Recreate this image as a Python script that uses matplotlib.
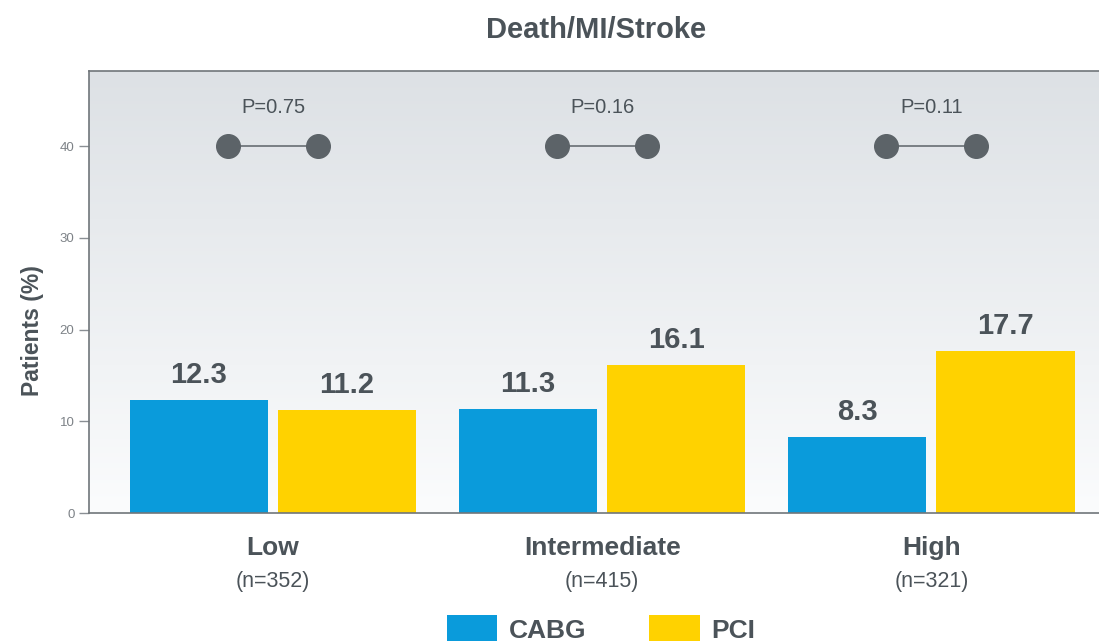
import matplotlib.pyplot as plt
import numpy as np
from matplotlib.colors import LinearSegmentedColormap

# data
groups = ["Low", "Intermediate", "High"]
n_labels = ["(n=352)", "(n=415)", "(n=321)"]
cabg = [12.3, 11.3, 8.3]
pci = [11.2, 16.1, 17.7]
p_values = ["P=0.75", "P=0.16", "P=0.11"]
p_level = 40

blue = "#0a9bdb"
yellow = "#ffd200"
dark = "#4b5359"
dotc = "#5c6368"

plt.rcParams['font.family'] = ['Liberation Sans', 'DejaVu Sans']

fig = plt.figure(figsize=(10.99, 6.41), dpi=100)
ax = fig.add_axes([89/1099, 128/641, 1030/1099, 442/641])

x = np.arange(len(groups))
w = 0.42
off = 0.225

# gradient background
cmap = LinearSegmentedColormap.from_list("bg", ["#fbfcfd", "#dde1e5"])
ax.imshow(np.linspace(0, 1, 256)[:, None], extent=[0, 1, 0, 1], transform=ax.transAxes,
          cmap=cmap, origin="lower", aspect="auto", zorder=0)

b1 = ax.bar(x - off, cabg, w, color=blue, label="CABG", zorder=2)
b2 = ax.bar(x + off, pci, w, color=yellow, label="PCI", zorder=2)
ax.bar_label(b1, fmt="%.1f", padding=8, fontsize=21, fontweight="bold", color=dark)
ax.bar_label(b2, fmt="%.1f", padding=8, fontsize=21, fontweight="bold", color=dark)

# p-value dumbbells
dx = 0.137
for i in range(len(groups)):
    ax.plot([x[i] - dx, x[i] + dx], [p_level, p_level], color=dotc, lw=1.1, zorder=3)
    ax.plot([x[i] - dx, x[i] + dx], [p_level, p_level], 'o', ms=17, color=dotc, zorder=4)
    ax.text(x[i], 43.2, p_values[i], ha="center", va="bottom", fontsize=14.5, color=dark)
    ax.text(x[i], -0.079, groups[i], transform=ax.get_xaxis_transform(), ha="center",
            va="center", fontsize=19, fontweight="bold", color=dark)
    ax.text(x[i], -0.156, n_labels[i], transform=ax.get_xaxis_transform(), ha="center",
            va="center", fontsize=15.5, color=dark)

ax.set_xlim(-0.559, 2.57)
ax.set_ylim(0, 48.2)
ax.set_yticks([0, 10, 20, 30, 40])
ax.set_xticks([])
ax.tick_params(axis="y", length=7, width=1, color="#8a8f94", labelcolor="#7d8287", labelsize=9.5)
for s in ["left", "top", "bottom"]:
    ax.spines[s].set_color("#70767a")
    ax.spines[s].set_linewidth(1.2)
ax.spines["right"].set_visible(False)

fig.text(33/1099, 1 - 331/641, "Patients (%)", rotation=90, ha="center", va="center",
         fontsize=16.5, fontweight="bold", color=dark)
fig.text(596/1099, 1 - 30/641, "Death/MI/Stroke", ha="center", va="center",
         fontsize=21, fontweight="bold", color=dark)

fig.legend(handles=[b1, b2], loc="center", bbox_to_anchor=(601/1099, 12/641), ncol=2,
           frameon=False, prop={"weight": "bold", "size": 19},
           handlelength=1.9, handleheight=1.3, columnspacing=2.4, handletextpad=0.45,
           labelcolor=dark)

fig.savefig("out.png", dpi=100)
